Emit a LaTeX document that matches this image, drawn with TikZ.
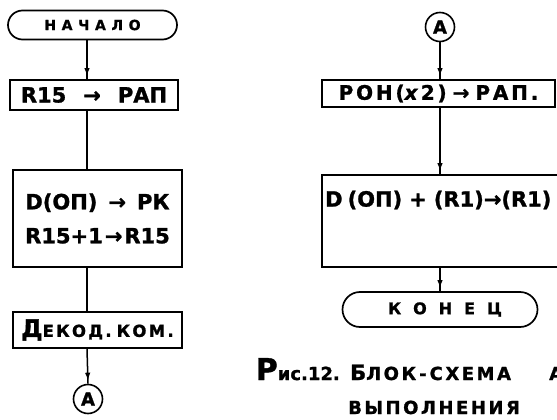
\documentclass[tikz,border=0pt]{standalone}
\usepackage{fontspec}
\setmainfont{DejaVu Sans}[BoldFeatures={FakeBold=1.2}]
\newfontfamily\spacedfont{DejaVu Sans Bold}[LetterSpace=40,FakeBold=1.2]
\newfontfamily\widefont{DejaVu Sans Bold}[LetterSpace=75,FakeBold=1.2]
\newfontfamily\capfont{DejaVu Sans Bold}[LetterSpace=14,FakeBold=1.2]
\usetikzlibrary{arrows.meta,decorations.markings}
\newcommand{\fs}[1]{\fontsize{#1}{#1}\selectfont}
\tikzset{
  box/.style={draw, line width=1.7pt, inner sep=0pt, font=\bfseries\fs{21}},
  term/.style={box},
  conn/.style={draw, circle, line width=1.6pt, minimum size=29pt, inner sep=0pt, font=\bfseries\fs{18}},
  ln/.style={line width=1.5pt},
  arr/.style={line width=1.5pt, postaction={decorate},
    decoration={markings, mark=at position -3pt with {\arrow{Latex[length=8pt,width=5.5pt]}}}},
  txt/.style={inner sep=0pt, font=\bfseries}
}
\begin{document}
\begin{tikzpicture}[x=1pt,y=-1pt]
\useasboundingbox (0,0) rectangle (557,420);
\clip (0,0) rectangle (557,420);
\fill[white] (0,0) rectangle (557,420);
% left column
\coordinate (cl) at (87,0);
\node[term, minimum width=169pt, minimum height=29pt, rounded corners=14.5pt] (start) at (92.5,25) {\spacedfont\fs{14}НАЧАЛО};
\node[box, minimum width=168pt, minimum height=30pt] (b1) at (94,95) {R15\hspace{17pt}→\hspace{17pt}РАП};
\node[box, minimum width=169pt, minimum height=97pt, align=center, font=\bfseries\fontsize{21}{34}\selectfont] (b2) at (97.5,218.5) {D(ОП)\hspace{11pt}→\hspace{11pt}РК\\R15+1\hspace{2pt}→\hspace{2pt}R15};
\node[box, minimum width=169pt, minimum height=36pt] (b3) at (97.5,330) {\capfont{\fs{24}Д}{\fs{16.5}ЕКОД.\hspace{5pt}КОМ.}};
\node[conn] (A1) at (88,399) {A};
\draw[arr] (start.south -| cl) -- (b1.north -| cl);
\draw[ln] (b1.south -| cl) -- (b2.north -| cl);
\draw[ln] (b2.south -| cl) -- (b3.north -| cl);
\draw[arr] (b3.south -| cl) -- (A1.north);
% right column
\node[conn] (A2) at (440,27) {A};
\node[box, minimum width=233pt, minimum height=27pt, font=\capfont\fs{20}] (b4) at (438.5,93.5) {РОН(\textit{x}2)\hspace{6pt}→\hspace{6pt}РАП.};
\node[box, minimum width=250pt, minimum height=92pt] (b5) at (447,221) {};
\node[txt, anchor=west, font=\bfseries\fs{21}] (t5) at (325,200) {D\hspace{5pt}(ОП)\hspace{7pt}+\hspace{7pt}(R1)→(R1)};
\node[term, minimum width=195pt, minimum height=35pt, rounded corners=17.5pt] (end) at (440,309.5) {\widefont\fs{16}\hspace{10pt}КОНЕЦ};
\draw[arr] (A2.south) -- (b4.north -| A2);
\draw[arr] (b4.south -| A2) -- (b5.north -| A2);
\draw[arr] (b5.south -| A2) -- (end.north -| A2);
% caption
\node[txt, anchor=base east] (cap1a) at (340,380) {{\fs{30}Р}{\fs{18}ис.12.}};
\node[txt, anchor=base west] (cap1) at (350,380) {\capfont{\fs{21}Б}{\fs{18}ЛОК\hspace{3pt}-\hspace{3pt}СХЕМА}};
\node[txt, anchor=base west, font=\capfont\fs{18}] (cap1b) at (549,380) {А};
\node[txt, anchor=base west, font=\capfont\fs{18}] (cap2) at (348,414) {ВЫПОЛНЕНИЯ};
\end{tikzpicture}
\end{document}
